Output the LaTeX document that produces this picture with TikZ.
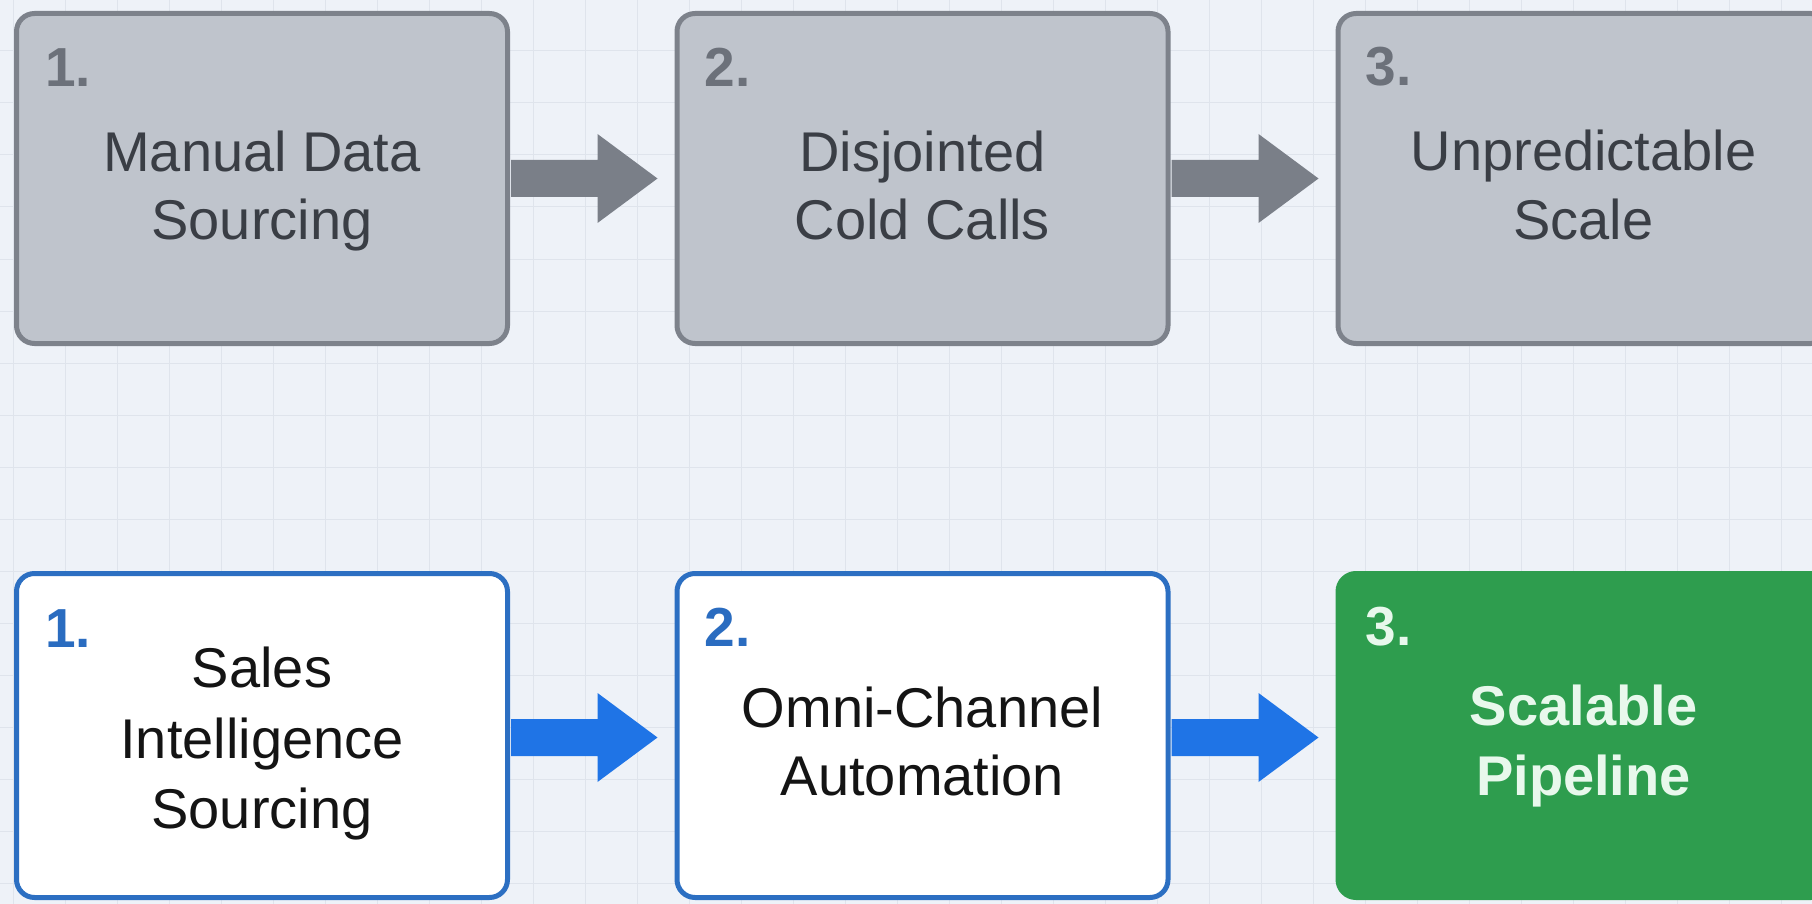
\documentclass[tikz,border=0pt]{standalone}
\usepackage{fontspec}
\setmainfont{Liberation Sans}
\usetikzlibrary{calc}
\definecolor{bgc}{HTML}{EEF2F8}
\definecolor{gridc}{HTML}{DFE4EC}
\definecolor{gfill}{HTML}{BFC4CC}
\definecolor{gborder}{HTML}{7D828B}
\definecolor{gnum}{HTML}{6C717A}
\definecolor{gtext}{HTML}{3A3E45}
\definecolor{garrowc}{HTML}{7A7F88}
\definecolor{bborder}{HTML}{2C6FC2}
\definecolor{bnum}{HTML}{2A6CC0}
\definecolor{btext}{HTML}{141414}
\definecolor{barrowc}{HTML}{1F74E6}
\definecolor{grfill}{HTML}{2E9D4E}
\definecolor{grtext}{HTML}{E8F8EC}
\newcommand{\bigarrow}[4]{%
  \fill[#1] ($(#2.east)+(1,#4-18.5)$) -- ($(#3.west)+(-77,#4-18.5)$) -- ($(#3.west)+(-77,#4-44.5)$) -- ($(#3.west)+(-17,#4)$) -- ($(#3.west)+(-77,#4+44.5)$) -- ($(#3.west)+(-77,#4+18.5)$) -- ($(#2.east)+(1,#4+18.5)$) -- cycle;}
\begin{document}
\begin{tikzpicture}[x=1pt,y=-1pt,
  box/.style={rectangle, rounded corners=18pt, line width=5pt, minimum width=491pt, minimum height=330pt, inner sep=0pt},
  graybox/.style={box, fill=gfill, draw=gborder},
  bluebox/.style={box, fill=white, draw=bborder, minimum height=324pt},
  greenbox/.style={box, fill=grfill, draw=grfill, minimum height=324pt},
  txt/.style={font=\fontsize{56}{68}\selectfont, inner sep=0pt, anchor=base},
  num/.style={font=\fontsize{55}{60}\selectfont\bfseries, inner sep=0pt, anchor=base west},
]
\useasboundingbox (0,0) rectangle (1812,904);
\clip (0,0) rectangle (1812,904);
\fill[bgc] (0,0) rectangle (1812,904);
\begin{scope}[shift={(13,-1)}]
  \draw[gridc, line width=1pt] (-52,-52) grid[step=52pt] (1820,920);
\end{scope}

% top row
\node[graybox] (t1) at (262,178.5) {};
\node[graybox] (t2) at (922.5,178.5) {};
\node[graybox] (t3) at (1583.5,178.5) {};
\node[num, text=gnum] (t1n) at ($(t1.north west)+(31,75.5)$) {1.};
\node[num, text=gnum] (t2n) at ($(t2.north west)+(30,75.5)$) {2.};
\node[num, text=gnum] (t3n) at ($(t3.north west)+(30,75)$) {3.};
\node[txt, text=gtext] (t1a) at ($(t1)+(0,-6.5)$) {Manual Data};
\node[txt, text=gtext] (t1b) at ($(t1)+(0,61.5)$) {Sourcing};
\node[txt, text=gtext] (t2a) at ($(t2)+(0,-6.5)$) {Disjointed};
\node[txt, text=gtext] (t2b) at ($(t2)+(0,61.5)$) {Cold Calls};
\node[txt, text=gtext] (t3a) at ($(t3)+(0,-8)$) {Unpredictable};
\node[txt, text=gtext] (t3b) at ($(t3)+(0,61.5)$) {Scale};
\bigarrow{garrowc}{t1}{t2}{0}
\bigarrow{garrowc}{t2}{t3}{0}

% bottom row
\node[bluebox] (b1) at (262,735.5) {};
\node[bluebox] (b2) at (922.5,735.5) {};
\node[greenbox] (b3) at (1583.5,735.5) {};
\node[num, text=bnum] (b1n) at ($(b1.north west)+(31,76)$) {1.};
\node[num, text=bnum] (b2n) at ($(b2.north west)+(30,75.5)$) {2.};
\node[num, text=grtext] (b3n) at ($(b3.north west)+(30,74.5)$) {3.};
\node[txt, text=btext] (b1a) at ($(b1)+(0,-48.5)$) {Sales};
\node[txt, text=btext] (b1b) at ($(b1)+(0,22.5)$) {Intelligence};
\node[txt, text=btext] (b1c) at ($(b1)+(0,92.5)$) {Sourcing};
\node[txt, text=btext] (b2a) at ($(b2)+(0,-8.5)$) {Omni-Channel};
\node[txt, text=btext] (b2b) at ($(b2)+(0,59.5)$) {Automation};
\node[txt, text=grtext, font=\fontsize{56}{68}\selectfont\bfseries] (b3a) at ($(b3)+(0,-10.5)$) {Scalable};
\node[txt, text=grtext, font=\fontsize{56}{68}\selectfont\bfseries] (b3b) at ($(b3)+(0,59.5)$) {Pipeline};
\bigarrow{barrowc}{b1}{b2}{2}
\bigarrow{barrowc}{b2}{b3}{2}
\end{tikzpicture}
\end{document}
